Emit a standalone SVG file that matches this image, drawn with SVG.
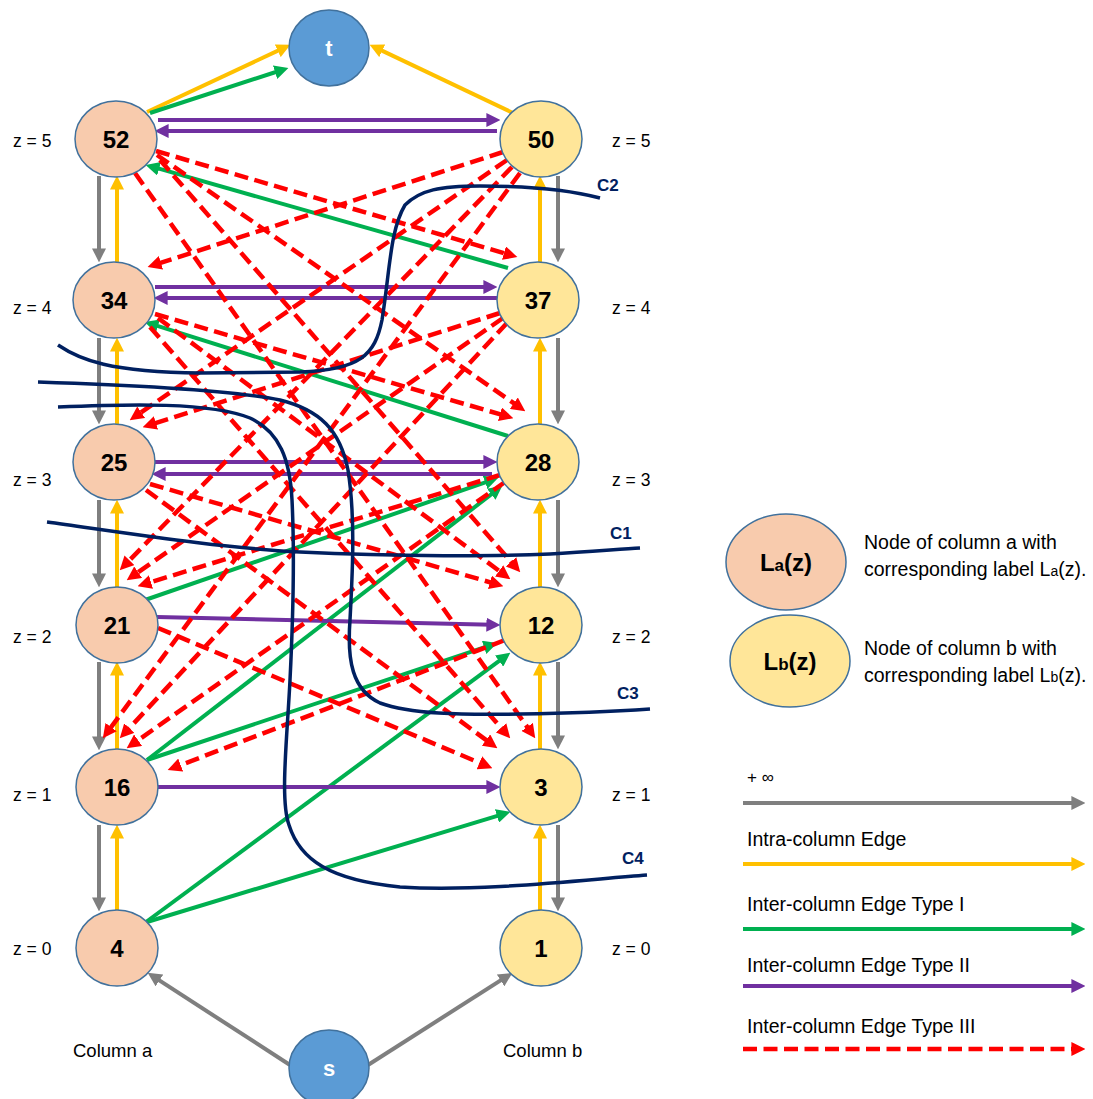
<svg xmlns="http://www.w3.org/2000/svg" width="1093" height="1099" viewBox="0 0 1093 1099">
  <style>
    .na { fill: #F8CBAD; stroke: #41719C; stroke-width: 1.5; }
    .nb { fill: #FFE699; stroke: #41719C; stroke-width: 1.5; }
    .nst { fill: #5B9BD5; stroke: #41719C; stroke-width: 1.5; }
    .num { font-family: "Liberation Sans", Arial, sans-serif; font-weight: bold; font-size: 24px; fill: #000; text-anchor: middle; }
    .numw { font-family: "Liberation Sans", Arial, sans-serif; font-weight: bold; font-size: 22px; fill: #fff; text-anchor: middle; }
    .lbl { font-family: "Liberation Sans", Arial, sans-serif; font-size: 17.5px; fill: #000; }
    .leg { font-family: "Liberation Sans", Arial, sans-serif; font-size: 19.5px; fill: #000; }
    .cl { font-family: "Liberation Sans", Arial, sans-serif; font-weight: bold; font-size: 17px; fill: #002060; }
    .e { fill: none; stroke-width: 4; }
    .gray { stroke: #7F7F7F; marker-end: url(#mg); }
    .yel { stroke: #FFC000; marker-end: url(#my); }
    .grn { stroke: #00B050; marker-end: url(#mgr); }
    .pur { stroke: #7030A0; marker-end: url(#mp); }
    .red { stroke: #FF0000; stroke-width: 4.5; stroke-dasharray: 14 6.5; marker-end: url(#mr); }
    .cut { fill: none; stroke: #002060; stroke-width: 3.5; }
  </style>
  <defs>
    <marker id="mg" viewBox="0 0 10 10" refX="4" refY="5" markerWidth="14" markerHeight="14" markerUnits="userSpaceOnUse" orient="auto"><path d="M0,0 L10,5 L0,10 z" fill="#7F7F7F"/></marker>
    <marker id="my" viewBox="0 0 10 10" refX="4" refY="5" markerWidth="14" markerHeight="14" markerUnits="userSpaceOnUse" orient="auto"><path d="M0,0 L10,5 L0,10 z" fill="#FFC000"/></marker>
    <marker id="mgr" viewBox="0 0 10 10" refX="4" refY="5" markerWidth="14" markerHeight="14" markerUnits="userSpaceOnUse" orient="auto"><path d="M0,0 L10,5 L0,10 z" fill="#00B050"/></marker>
    <marker id="mp" viewBox="0 0 10 10" refX="4" refY="5" markerWidth="14" markerHeight="14" markerUnits="userSpaceOnUse" orient="auto"><path d="M0,0 L10,5 L0,10 z" fill="#7030A0"/></marker>
    <marker id="mr" viewBox="0 0 10 10" refX="4" refY="5" markerWidth="14" markerHeight="14" markerUnits="userSpaceOnUse" orient="auto"><path d="M0,0 L10,5 L0,10 z" fill="#FF0000"/></marker>
  </defs>
  <rect width="1093" height="1099" fill="#fff"/>

  <!-- connectors -->
  <g id="edges">
    <!-- intra-column, column a: +inf down, label edge up -->
    <line class="e gray" x1="99" y1="176" x2="99" y2="254"/>
    <line class="e gray" x1="99" y1="338" x2="99" y2="416"/>
    <line class="e gray" x1="99" y1="500" x2="99" y2="579"/>
    <line class="e gray" x1="99" y1="662" x2="99" y2="742"/>
    <line class="e gray" x1="99" y1="825" x2="99" y2="903"/>
    <line class="e yel" x1="117" y1="262" x2="117" y2="184"/>
    <line class="e yel" x1="117" y1="424" x2="117" y2="346"/>
    <line class="e yel" x1="117" y1="587" x2="117" y2="508"/>
    <line class="e yel" x1="117" y1="750" x2="117" y2="670"/>
    <line class="e yel" x1="117" y1="911" x2="117" y2="833"/>
    <!-- intra-column, column b -->
    <line class="e yel" x1="540" y1="262" x2="540" y2="184"/>
    <line class="e yel" x1="540" y1="424" x2="540" y2="346"/>
    <line class="e yel" x1="540" y1="587" x2="540" y2="508"/>
    <line class="e yel" x1="540" y1="749" x2="540" y2="670"/>
    <line class="e yel" x1="540" y1="910" x2="540" y2="833"/>
    <line class="e gray" x1="558" y1="176" x2="558" y2="254"/>
    <line class="e gray" x1="558" y1="338" x2="558" y2="416"/>
    <line class="e gray" x1="558" y1="500" x2="558" y2="579"/>
    <line class="e gray" x1="558" y1="662" x2="558" y2="741"/>
    <line class="e gray" x1="558" y1="825" x2="558" y2="903"/>

    <!-- source and sink -->
    <line class="e gray" x1="290" y1="1065" x2="154.7" y2="977.4"/>
    <line class="e gray" x1="368" y1="1065" x2="505.3" y2="977.4"/>
    <line class="e yel" x1="147" y1="112" x2="282.8" y2="48.4"/>
    <line class="e grn" x1="150" y1="113" x2="280.4" y2="70.5"/>
    <line class="e yel" x1="513" y1="113" x2="377.2" y2="48.4"/>

    <!-- type I -->
    <line class="e grn" x1="508" y1="268" x2="153.7" y2="167.2"/>
    <line class="e grn" x1="508" y1="436" x2="152.6" y2="324.4"/>
    <line class="e grn" x1="145" y1="600" x2="490.4" y2="480.6"/>
    <line class="e grn" x1="147" y1="760" x2="495.7" y2="490.9"/>
    <line class="e grn" x1="147" y1="760" x2="489.4" y2="645.6"/>
    <line class="e grn" x1="146" y1="922" x2="503.6" y2="657.7"/>
    <line class="e grn" x1="147" y1="922" x2="502.3" y2="814.3"/>

    <!-- type II -->
    <line class="e pur" x1="158" y1="120" x2="492" y2="120"/>
    <line class="e pur" x1="497" y1="131" x2="163" y2="131"/>
    <line class="e pur" x1="155" y1="287" x2="489" y2="287"/>
    <line class="e pur" x1="497" y1="298" x2="162" y2="298"/>
    <line class="e pur" x1="155" y1="462" x2="489" y2="462"/>
    <line class="e pur" x1="492" y1="474" x2="160" y2="474"/>
    <line class="e pur" x1="157" y1="617" x2="492" y2="624.8"/>
    <line class="e pur" x1="157" y1="787" x2="492" y2="787"/>

    <!-- type III, column a to column b -->
    <line class="e red" x1="156" y1="151" x2="509.3" y2="254.7"/>
    <line class="e red" x1="157" y1="155" x2="518.4" y2="406.4"/>
    <line class="e red" x1="160" y1="160" x2="514.7" y2="566"/>
    <line class="e red" x1="135" y1="173" x2="530.4" y2="731.5"/>
    <line class="e red" x1="155" y1="314" x2="505.3" y2="415.8"/>
    <line class="e red" x1="158" y1="318" x2="503.6" y2="574.2"/>
    <line class="e red" x1="150" y1="327" x2="504.7" y2="732"/>
    <line class="e red" x1="150" y1="484" x2="495.3" y2="583.8"/>
    <line class="e red" x1="146" y1="490" x2="490.6" y2="743.3"/>
    <line class="e red" x1="158" y1="628" x2="484.6" y2="764.9"/>
    <!-- type III, column b to column a -->
    <line class="e red" x1="503" y1="152" x2="155.6" y2="264.5"/>
    <line class="e red" x1="507" y1="160" x2="136.6" y2="415.5"/>
    <line class="e red" x1="512" y1="167" x2="125.6" y2="564.3"/>
    <line class="e red" x1="520" y1="173" x2="107.8" y2="731.6"/>
    <line class="e red" x1="500" y1="313" x2="150.6" y2="424.6"/>
    <line class="e red" x1="503" y1="318" x2="133.6" y2="575.4"/>
    <line class="e red" x1="507" y1="323" x2="125.5" y2="732.2"/>
    <line class="e red" x1="500" y1="475" x2="145.6" y2="583.7"/>
    <line class="e red" x1="505" y1="482" x2="133.5" y2="743.4"/>
    <line class="e red" x1="505" y1="640" x2="175.5" y2="767.1"/>
  </g>

  <!-- cuts -->
  <g id="cuts">
    <path class="cut" d="M58,345 C80,360 110,372 200,373 L300,372 C360,370 375,355 382,320 C390,270 390,230 405,205 C420,190 440,186 480,186 C530,186 570,190 600,198"/>
    <path class="cut" d="M47,522 C120,532 220,548 300,552 C400,557 500,556 550,554 C590,552 620,549 640,548"/>
    <path class="cut" d="M38,382 C130,385 230,390 280,400 C320,410 340,430 348,470 C356,520 352,580 350,620 C347,660 352,690 380,703 C410,714 460,715 520,714 C580,713 620,711 650,709"/>
    <path class="cut" d="M58,407 C130,404 210,402 250,418 C280,432 290,460 292,500 C295,560 293,620 290,680 C287,740 280,800 289,825 C300,860 330,880 400,887 C480,892 580,880 647,875"/>
    <text class="cl" x="597" y="191">C2</text>
    <text class="cl" x="610" y="539">C1</text>
    <text class="cl" x="617" y="699">C3</text>
    <text class="cl" x="622" y="864">C4</text>
  </g>

  <!-- nodes -->
  <g id="node-t"><ellipse class="nst" cx="329" cy="48" rx="40" ry="38"/><text class="numw" x="329" y="56">t</text></g>
  <g id="node-s"><ellipse class="nst" cx="329" cy="1068" rx="40" ry="38"/><text class="numw" x="329" y="1076">s</text></g>

  <g id="node-a5"><ellipse class="na" cx="116" cy="139" rx="41" ry="38"/><text class="num" x="116" y="148">52</text></g>
  <g id="node-a4"><ellipse class="na" cx="114" cy="300" rx="41" ry="38"/><text class="num" x="114" y="309">34</text></g>
  <g id="node-a3"><ellipse class="na" cx="114" cy="462" rx="41" ry="38"/><text class="num" x="114" y="471">25</text></g>
  <g id="node-a2"><ellipse class="na" cx="117" cy="625" rx="41" ry="38"/><text class="num" x="117" y="634">21</text></g>
  <g id="node-a1"><ellipse class="na" cx="117" cy="787" rx="41" ry="38"/><text class="num" x="117" y="796">16</text></g>
  <g id="node-a0"><ellipse class="na" cx="117" cy="948" rx="41" ry="38"/><text class="num" x="117" y="957">4</text></g>

  <g id="node-b5"><ellipse class="nb" cx="541" cy="139" rx="41" ry="38"/><text class="num" x="541" y="148">50</text></g>
  <g id="node-b4"><ellipse class="nb" cx="538" cy="300" rx="41" ry="38"/><text class="num" x="538" y="309">37</text></g>
  <g id="node-b3"><ellipse class="nb" cx="538" cy="462" rx="41" ry="38"/><text class="num" x="538" y="471">28</text></g>
  <g id="node-b2"><ellipse class="nb" cx="541" cy="625" rx="41" ry="38"/><text class="num" x="541" y="634">12</text></g>
  <g id="node-b1"><ellipse class="nb" cx="541" cy="787" rx="41" ry="38"/><text class="num" x="541" y="796">3</text></g>
  <g id="node-b0"><ellipse class="nb" cx="541" cy="948" rx="41" ry="38"/><text class="num" x="541" y="957">1</text></g>

  <!-- level and column labels -->
  <g id="levels">
    <text class="lbl" x="13" y="147">z = 5</text>
    <text class="lbl" x="13" y="314">z = 4</text>
    <text class="lbl" x="13" y="486">z = 3</text>
    <text class="lbl" x="13" y="643">z = 2</text>
    <text class="lbl" x="13" y="801">z = 1</text>
    <text class="lbl" x="13" y="955">z = 0</text>
    <text class="lbl" x="612" y="147">z = 5</text>
    <text class="lbl" x="612" y="314">z = 4</text>
    <text class="lbl" x="612" y="486">z = 3</text>
    <text class="lbl" x="612" y="643">z = 2</text>
    <text class="lbl" x="612" y="801">z = 1</text>
    <text class="lbl" x="612" y="955">z = 0</text>
    <text class="lbl" x="73" y="1057" style="font-size:18.5px">Column a</text>
    <text class="lbl" x="503" y="1057" style="font-size:18.5px">Column b</text>
  </g>

  <!-- legend -->
  <g id="legend">
    <ellipse class="na" cx="786" cy="562" rx="60" ry="48"/>
    <text class="num" x="786" y="571">L<tspan font-size="17px">a</tspan>(z)</text>
    <ellipse class="nb" cx="790" cy="661" rx="60" ry="46"/>
    <text class="num" x="790" y="670">L<tspan font-size="17px">b</tspan>(z)</text>
    <text class="leg" x="864" y="549">Node of column a with</text>
    <text class="leg" x="864" y="576">corresponding label L<tspan font-size="14px">a</tspan>(z).</text>
    <text class="leg" x="864" y="655">Node of column b with</text>
    <text class="leg" x="864" y="682">corresponding label L<tspan font-size="14px">b</tspan>(z).</text>

    <text class="leg" x="747" y="783" style="font-size:17px">+ ∞</text>
    <line class="e gray" x1="743" y1="803" x2="1077" y2="803"/>
    <text class="leg" x="747" y="846">Intra-column Edge</text>
    <line class="e yel" x1="743" y1="864" x2="1077" y2="864"/>
    <text class="leg" x="747" y="911">Inter-column Edge Type I</text>
    <line class="e grn" x1="743" y1="929" x2="1077" y2="929"/>
    <text class="leg" x="747" y="972">Inter-column Edge Type II</text>
    <line class="e pur" x1="743" y1="986" x2="1077" y2="986"/>
    <text class="leg" x="747" y="1033">Inter-column Edge Type III</text>
    <line class="e red" x1="743" y1="1049" x2="1077" y2="1049"/>
  </g>
</svg>
